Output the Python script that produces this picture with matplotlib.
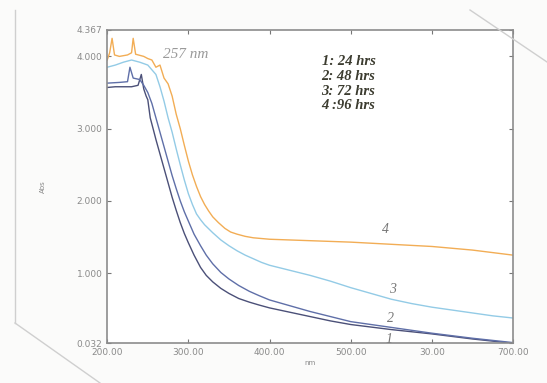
import matplotlib
matplotlib.use("Agg")
import matplotlib.pyplot as plt
from matplotlib.lines import Line2D

# wavelengths (nm) and absorbance
wl_1 = [200, 210, 220, 230, 238, 242, 245, 248, 250, 253, 257, 260, 265, 270, 275,
        280, 285, 290, 295, 300, 307, 315, 322, 330, 340, 350, 362, 375, 387, 400,
        425, 450, 475, 500, 525, 550, 575, 600, 625, 650, 675, 700]
abs_1 = [3.57, 3.58, 3.58, 3.58, 3.60, 3.75, 3.55, 3.45, 3.40, 3.15, 2.98, 2.85, 2.65,
         2.45, 2.25, 2.05, 1.87, 1.70, 1.55, 1.42, 1.25, 1.08, 0.97, 0.88, 0.79, 0.72,
         0.65, 0.60, 0.56, 0.52, 0.46, 0.40, 0.34, 0.29, 0.255, 0.22, 0.19, 0.16,
         0.125, 0.09, 0.06, 0.03]

wl_2 = [200, 215, 225, 228, 232, 240, 245, 250, 255, 260, 265, 270, 275, 280, 285,
        290, 295, 300, 307, 315, 322, 330, 340, 350, 362, 375, 387, 400, 425, 450,
        475, 500, 525, 550, 575, 600, 625, 650, 675, 700]
abs_2 = [3.63, 3.64, 3.65, 3.85, 3.70, 3.68, 3.60, 3.50, 3.35, 3.15, 2.95, 2.75, 2.55,
         2.35, 2.17, 2.00, 1.85, 1.72, 1.54, 1.38, 1.25, 1.13, 1.01, 0.92, 0.83, 0.75,
         0.69, 0.63, 0.55, 0.47, 0.40, 0.33, 0.29, 0.25, 0.21, 0.17, 0.135, 0.10,
         0.07, 0.04]

wl_3 = [200, 210, 220, 230, 240, 250, 260, 265, 270, 275, 280, 285, 290, 295, 300,
        305, 310, 315, 320, 330, 340, 350, 360, 370, 380, 390, 400, 425, 450, 475,
        500, 525, 550, 575, 600, 625, 650, 675, 700]
abs_3 = [3.85, 3.88, 3.92, 3.95, 3.92, 3.88, 3.75, 3.58, 3.38, 3.15, 2.95, 2.72, 2.50,
         2.29, 2.10, 1.95, 1.82, 1.74, 1.67, 1.56, 1.46, 1.38, 1.31, 1.25, 1.20, 1.15,
         1.11, 1.04, 0.97, 0.89, 0.80, 0.72, 0.64, 0.58, 0.53, 0.49, 0.45, 0.41, 0.38]

wl_4 = [200, 203, 206, 209, 215, 225, 230, 232, 235, 245, 250, 255, 260, 265, 270,
        275, 280, 285, 290, 295, 300, 305, 310, 315, 320, 325, 330, 337, 345, 352,
        360, 370, 380, 390, 400, 450, 500, 550, 600, 650, 700]
abs_4 = [3.95, 4.05, 4.25, 4.02, 4.00, 4.02, 4.05, 4.25, 4.03, 4.00, 3.97, 3.95, 3.85,
         3.88, 3.70, 3.62, 3.45, 3.20, 3.00, 2.77, 2.55, 2.36, 2.20, 2.06, 1.95, 1.86,
         1.78, 1.70, 1.62, 1.57, 1.54, 1.51, 1.49, 1.48, 1.47, 1.45, 1.43, 1.40, 1.37,
         1.32, 1.25]

x_ticks = [200, 300, 400, 500, 600, 700]
x_labels = ["200.00", "300.00", "400.00", "500.00", "30.00", "700.00"]
y_ticks = [0.032, 1.0, 2.0, 3.0, 4.0, 4.367]
y_labels = ["0.032", "1.000", "2.000", "3.000", "4.000", "4.367"]
legend_lines = ["1: 24 hrs", "2: 48 hrs", "3: 72 hrs", "4 :96 hrs"]

fig = plt.figure(figsize=(5.47, 3.83), dpi=100)
fig.patch.set_facecolor("#fbfbfa")
ax = fig.add_axes([0.196, 0.104, 0.742, 0.818])
ax.set_facecolor("white")

ax.plot(wl_1, abs_1, color="#4b5078", lw=1.0)
ax.plot(wl_2, abs_2, color="#5f6fa8", lw=1.0)
ax.plot(wl_3, abs_3, color="#93cbe6", lw=1.0)
ax.plot(wl_4, abs_4, color="#f2ad55", lw=1.0)

ax.set_xlim(200, 700)
ax.set_ylim(0.032, 4.367)
ax.set_xticks(x_ticks)
ax.set_xticklabels(x_labels)
ax.set_yticks(y_ticks)
ax.set_yticklabels(y_labels)
ax.tick_params(direction="in", length=3, width=0.8, color="#777777",
               labelcolor="#8a8a8a", labelsize=6.5, top=True, right=True)
for s in ax.spines.values():
    s.set_color("#8c8c8c")
    s.set_linewidth(1.2)

ax.set_xlabel("nm", fontsize=5, color="#888888", labelpad=2)
ax.set_ylabel("Abs", fontsize=5, color="#888888", labelpad=22)

ax.text(269, 4.03, "257 nm", style="italic", fontsize=11, color="#9a9a9a",
        family="Liberation Serif", va="center")

for i, s in enumerate(legend_lines):
    ax.text(464, 3.93 - i * 0.205, s, fontsize=10.5, fontweight="bold", style="italic",
            family="Liberation Serif", color="#3c3c30", va="center")

for lbl, (x, y) in zip(["4", "3", "2", "1"],
                       [(543, 1.60), (552, 0.77), (549, 0.38), (547, 0.08)]):
    ax.text(x, y, lbl, fontsize=10, style="italic", family="Liberation Serif",
            color="#777777", ha="center", va="center")

# edge of the photographed page
W, H = 547, 383
for xs, ys in [((15, 15), (10, 323)), ((15, 100), (323, 383)), ((470, 547), (10, 62))]:
    fig.add_artist(Line2D([x / W for x in xs], [1 - y / H for y in ys],
                          color="#cfcfcf", lw=1.0))

fig.savefig("out.png", dpi=100, facecolor=fig.get_facecolor())
